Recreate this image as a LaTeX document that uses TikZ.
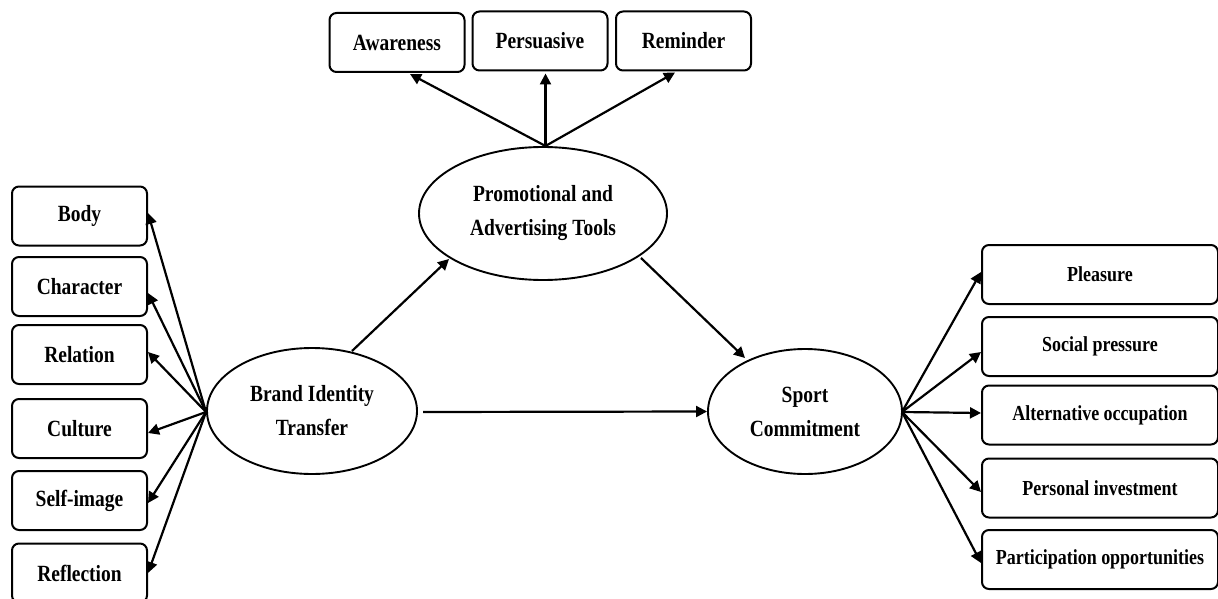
\documentclass[tikz,border=0pt]{standalone}
\usepackage{fontspec}
\setmainfont{Liberation Serif}[FakeStretch=0.84]
\usetikzlibrary{arrows.meta,calc,shapes.geometric}
\tikzset{
  bx/.style={draw=black,line width=2pt,rounded corners=7pt,inner sep=0pt,align=center,minimum height=59pt,minimum width=135pt,font=\fontsize{23.2}{28}\selectfont\bfseries},
  wbx/.style={bx,minimum width=236pt,font=\fontsize{21.4}{26}\selectfont\bfseries},
  el/.style={draw=black,line width=1.9pt,shape=ellipse,inner sep=0pt,align=center,font=\fontsize{23.2}{34}\selectfont\bfseries},
  ar/.style={draw=black,line width=2.2pt,-{Triangle[length=11pt,width=11pt]}}
}
\begin{document}
\begin{tikzpicture}[x=1pt,y=-1pt]
\useasboundingbox (0,0) rectangle (1218,599);
\clip (0,0) rectangle (1218,599);
% top boxes
\node[bx] (aw) at (397,42.5) {Awareness};
\node[bx] (pe) at (540,41) {Persuasive};
\node[bx] (re) at (683.5,41) {Reminder};
% left boxes
\node[bx] (bo) at (79.5,216) {Body};
\node[bx] (ch) at (79.5,286.5) {Character};
\node[bx] (rl) at (79.5,354.5) {Relation};
\node[bx] (cu) at (79.5,428.5) {Culture};
\node[bx] (se) at (79.5,500.5) {Self-image};
\node[bx] (rf) at (79.5,573) {Reflection};
% right boxes
\node[wbx] (pl) at (1100,274.5) {Pleasure};
\node[wbx] (so) at (1100,346.5) {Social pressure};
\node[wbx] (al) at (1100,415) {Alternative occupation};
\node[wbx] (pi) at (1100,488) {Personal investment};
\node[wbx] (pa) at (1100,559.5) {Participation opportunities};
% ellipses
\node[el,minimum width=210pt,minimum height=126pt] (bit) at (312,411) {Brand Identity\\Transfer};
\node[el,minimum width=248pt,minimum height=133pt] (pro) at (543,213.5) {Promotional and\\Advertising Tools};
\node[el,minimum width=194pt,minimum height=125pt] (spo) at (805,411.5) {Sport\\Commitment};
% free ends
\coordinate (bitW) at (206,412);
\coordinate (proN) at (545.5,146);
\coordinate (spoE) at (902,412);
\coordinate (bitNE) at (352,351);
\coordinate (proSW) at (449,259);
\coordinate (proSE) at (641,258);
\coordinate (spoNW) at (745,358);
\coordinate (bitE) at (423,412);
\draw[ar] (bitW) -- ([yshift=3pt]bo.east);
\draw[ar] (bitW) -- ([yshift=-6.5pt]ch.east);
\draw[ar] (bitW) -- ([yshift=2.5pt]rl.east);
\draw[ar] (bitW) -- ([yshift=-4.5pt]cu.east);
\draw[ar] (bitW) -- ([yshift=-2.5pt]se.east);
\draw[ar] (bitW) -- (rf.east);
\draw[ar] (proN) -- ([xshift=13pt,yshift=-1pt]aw.south);
\draw[ar] (proN) -- ([xshift=5.5pt,yshift=-2pt]pe.south);
\draw[ar] (proN) -- ([xshift=-8.5pt,yshift=-1pt]re.south);
\draw[ar] (bitNE) -- (proSW);
\draw[ar] (proSE) -- (spoNW);
\draw[ar] (bitE) -- (spo.west);
\draw[ar] (spoE) -- ([yshift=2.5pt]pl.west);
\draw[ar] (spoE) -- ([yshift=-5.5pt]so.west);
\draw[ar] (spoE) -- ([yshift=2pt]al.west);
\draw[ar] (spoE) -- ([yshift=-4pt]pi.west);
\draw[ar] (spoE) -- ([yshift=-3.5pt]pa.west);
\end{tikzpicture}
\end{document}
